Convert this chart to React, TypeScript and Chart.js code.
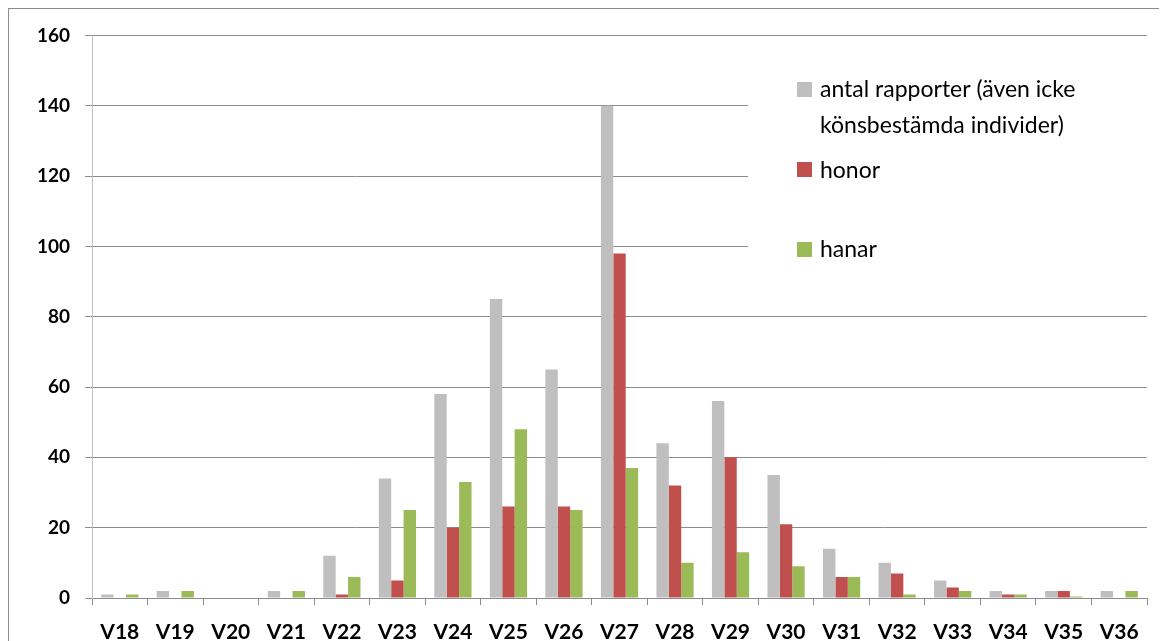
import React, { useEffect, useRef } from "react";
import { Chart, registerables } from "chart.js";

Chart.register(...registerables);

const categories = ["V18","V19","V20","V21","V22","V23","V24","V25","V26","V27","V28","V29","V30","V31","V32","V33","V34","V35","V36"];
const antalRapporter = [1,2,0,2,12,34,58,85,65,140,44,56,35,14,10,5,2,2,2];
const honor = [0,0,0,0,1,5,20,26,26,98,32,40,21,6,7,3,1,2,0];
const hanar = [1,2,0,2,6,25,33,48,25,37,10,13,9,6,1,2,1,0.4,2];
const seriesLabels = ["antal rapporter (även icke", "könsbestämda individer)", "honor", "hanar"];
const yTicks = [0,20,40,60,80,100,120,140,160];

const GRAY = "#BFBFBF";
const RED = "#C0504D";
const GREEN = "#9BBB59";
const FONT = "Lato, 'Open Sans', sans-serif";

const legendPlugin = {
  id: "customLegend",
  afterDraw(chart: any) {
    const ctx = chart.ctx;
    ctx.save();
    ctx.fillStyle = "#ffffff";
    ctx.fillRect(739, 46, 399, 230);
    const items = [
      { color: GRAY, sq: 73, lines: [[seriesLabels[0], 88], [seriesLabels[1], 124]] },
      { color: RED, sq: 153, lines: [[seriesLabels[2], 169]] },
      { color: GREEN, sq: 233, lines: [[seriesLabels[3], 248]] },
    ];
    ctx.font = `23px ${FONT}`;
    ctx.textBaseline = "alphabetic";
    ctx.textAlign = "left";
    for (const it of items) {
      ctx.fillStyle = it.color;
      ctx.fillRect(788, it.sq, 15, 15);
      ctx.fillStyle = "#000000";
      for (const [t, y] of it.lines as any) {
        ctx.fillText(t, 811, y);
      }
    }
    ctx.restore();
  },
};

export default function App() {
  const ref = useRef<HTMLCanvasElement>(null);
  useEffect(() => {
    if (!ref.current) return;
    const chart = new Chart(ref.current, {
      type: "bar",
      data: {
        labels: categories,
        datasets: [
          { label: seriesLabels[0] + " " + seriesLabels[1], data: antalRapporter, backgroundColor: GRAY },
          { label: seriesLabels[2], data: honor, backgroundColor: RED },
          { label: seriesLabels[3], data: hanar, backgroundColor: GREEN },
        ],
      },
      options: {
        responsive: false,
        animation: false,
        layout: { padding: { left: 0, top: 24, right: 13, bottom: 0 } },
        plugins: { legend: { display: false }, tooltip: { enabled: false } },
        datasets: { bar: { categoryPercentage: 0.67, barPercentage: 1 } },
        scales: {
          x: {
            grid: { offset: true, drawOnChartArea: false, drawTicks: true, tickLength: 7, color: "#8c8c8c" },
            border: { color: "#8c8c8c" },
            ticks: { color: "#000", font: { family: FONT, size: 21, weight: "bold" }, padding: 15, maxRotation: 0, autoSkip: false },
            afterFit: (s: any) => { s.height = 61; },
          },
          y: {
            min: 0,
            max: 160,
            afterBuildTicks: (s: any) => { s.ticks = yTicks.map((v) => ({ value: v })); },
            grid: { color: "#8c8c8c", tickLength: 7, drawTicks: true },
            border: { color: "#BFBFBF" },
            ticks: { color: "#000", font: { family: FONT, size: 19, weight: "bold" }, padding: 15 },
            afterFit: (s: any) => { s.width = 83; },
          },
        },
      },
      plugins: [legendPlugin],
    });
    return () => chart.destroy();
  }, []);
  return (
    <div style={{ width: 1151, height: 650, border: "1px solid #8c8c8c", position: "relative" }}>
      <canvas ref={ref} width={1151} height={650} style={{ display: "block" }} />
    </div>
  );
}
